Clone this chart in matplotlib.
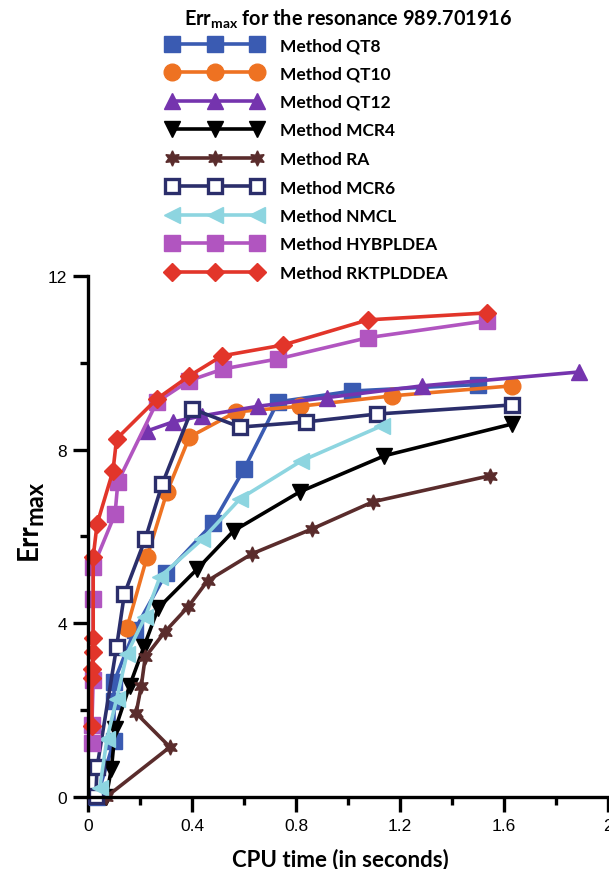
import numpy as np
import matplotlib
matplotlib.use("Agg")
import matplotlib.pyplot as plt

plt.rcParams['font.family'] = ['Liberation Sans', 'DejaVu Sans']
plt.rcParams['mathtext.fontset'] = 'custom'
plt.rcParams['mathtext.rm'] = 'Lato:bold'
plt.rcParams['mathtext.it'] = 'Lato:bold'
plt.rcParams['mathtext.bf'] = 'Lato:bold'

# data (CPU time in s, Err_max)
qt8_x = [0.035, 0.10, 0.10, 0.10, 0.18, 0.30, 0.48, 0.60, 0.73, 1.015, 1.50]
qt8_y = [0.0, 1.30, 2.20, 2.65, 3.85, 5.15, 6.30, 7.55, 9.10, 9.35, 9.50]

qt10_x = [0.15, 0.227, 0.304, 0.39, 0.57, 0.815, 1.17, 1.63]
qt10_y = [3.90, 5.53, 7.03, 8.29, 8.87, 9.00, 9.24, 9.47]

qt12_x = [0.227, 0.327, 0.44, 0.654, 0.92, 1.285, 1.89]
qt12_y = [8.43, 8.64, 8.78, 9.00, 9.20, 9.47, 9.79]

mcr4_x = [0.07, 0.09, 0.105, 0.16, 0.215, 0.27, 0.42, 0.56, 0.815, 1.14, 1.63]
mcr4_y = [0.0, 0.65, 1.57, 2.56, 3.46, 4.35, 5.25, 6.13, 7.03, 7.86, 8.59]

ra_x = [0.07, 0.315, 0.185, 0.205, 0.22, 0.295, 0.385, 0.46, 0.63, 0.86, 1.096, 1.546]
ra_y = [0.0, 1.15, 1.93, 2.56, 3.22, 3.80, 4.38, 4.98, 5.60, 6.17, 6.80, 7.40]

mcr6_x = [0.03, 0.035, 0.11, 0.14, 0.22, 0.285, 0.40, 0.585, 0.84, 1.11, 1.63]
mcr6_y = [0.02, 0.69, 3.46, 4.68, 5.94, 7.20, 8.94, 8.52, 8.64, 8.82, 9.03]

nmcl_x = [0.045, 0.073, 0.11, 0.15, 0.22, 0.277, 0.44, 0.585, 0.82, 1.13]
nmcl_y = [0.20, 1.34, 2.26, 3.30, 4.15, 5.07, 5.94, 6.87, 7.74, 8.55]

hyb_x = [0.015, 0.015, 0.02, 0.02, 0.02, 0.104, 0.115, 0.265, 0.39, 0.52, 0.73, 1.077, 1.535]
hyb_y = [1.25, 1.65, 2.70, 4.56, 5.30, 6.52, 7.26, 9.10, 9.59, 9.86, 10.09, 10.58, 10.97]

rkt_x = [0.015, 0.015, 0.015, 0.02, 0.02, 0.02, 0.035, 0.096, 0.11, 0.265, 0.39, 0.515, 0.75, 1.077, 1.535]
rkt_y = [1.64, 2.75, 2.95, 3.35, 3.66, 5.53, 6.29, 7.51, 8.25, 9.17, 9.70, 10.16, 10.41, 10.99, 11.15]

x_ticks = [0, 0.4, 0.8, 1.2, 1.6, 2.0]
x_tick_labels = ["0", "0.4", "0.8", "1.2", "1.6", "2"]
y_ticks = [0, 4, 8, 12]
y_tick_labels = ["0", "4", "8", "12"]

series = [
    ("Method QT8", qt8_x, qt8_y, "#3A5BB2", "s", 11, {}),
    ("Method QT10", qt10_x, qt10_y, "#EE7222", "o", 12, {}),
    ("Method QT12", qt12_x, qt12_y, "#7534AE", "^", 12, {}),
    ("Method MCR4", mcr4_x, mcr4_y, "#000000", "v", 11, {}),
    ("Method RA", ra_x, ra_y, "#5A2C2C", (6, 1, 0), 11, {}),
    ("Method MCR6", mcr6_x, mcr6_y, "#2B2E6B", "s", 10,
     {"markerfacecolor": "white", "markeredgewidth": 2.4}),
    ("Method NMCL", nmcl_x, nmcl_y, "#8DD5E0", "<", 11, {}),
    ("Method HYBPLDEA", hyb_x, hyb_y, "#B155C0", "s", 12, {}),
    ("Method RKTPLDDEA", rkt_x, rkt_y, "#E2352A", "D", 9, {}),
]

W, H = 609, 870
fig = plt.figure(figsize=(W / 100, H / 100), dpi=100)
ax = fig.add_axes([0.1445, 0.0828, 0.854, 0.5988])

for label, xs, ys, color, marker, ms, extra in series:
    ax.plot(xs, ys, color=color, lw=2.6, marker=marker, markersize=ms,
            markeredgecolor=color, label=label, clip_on=False, **extra)

ax.set_xlim(0, 2)
ax.set_ylim(0, 12)
for side in ("top", "right"):
    ax.spines[side].set_visible(False)
for side in ("left", "bottom"):
    ax.spines[side].set_linewidth(2.4)

ax.set_xticks(x_ticks, x_tick_labels)
ax.set_xticks(np.arange(0.2, 2.0, 0.4), minor=True)
ax.set_yticks(y_ticks, y_tick_labels)
ax.set_yticks([2, 6, 10], minor=True)
ax.tick_params(which="major", length=11, width=2.4, labelsize=12.5, pad=4)
ax.tick_params(which="minor", length=6, width=2.4)

ax.set_xlabel("CPU time (in seconds)", fontsize=16, fontweight="bold",
              family="Lato")
ax.xaxis.set_label_coords(0.486, -0.097)

# y label: "Err" with a slightly smaller, lowered "max"
lbl = dict(rotation=90, ha="right", va="bottom", fontweight="bold", family="Lato")
t_err = fig.text(42 / W, 1 - 560 / H, "Err", fontsize=20, **lbl)
fig.canvas.draw()
bb = t_err.get_window_extent(fig.canvas.get_renderer())
fig.text(47 / W, bb.y1 / H - 0.002, "max", fontsize=17, **lbl)

fig.text(348 / W, 1 - 19 / H, r"Err$_{\mathrm{max}}$ for the resonance 989.701916",
         ha="center", va="center", fontsize=14.3, fontweight="bold", family="Lato")

fig.legend(loc="upper left", bbox_to_anchor=(167 / W, 1 - 38 / H),
           frameon=False, numpoints=3, handlelength=5.5, handletextpad=1.0,
           labelspacing=0.72, borderpad=0, borderaxespad=0,
           prop={"family": "Lato", "weight": "bold", "size": 12.5})

fig.savefig("out.png", dpi=100)
